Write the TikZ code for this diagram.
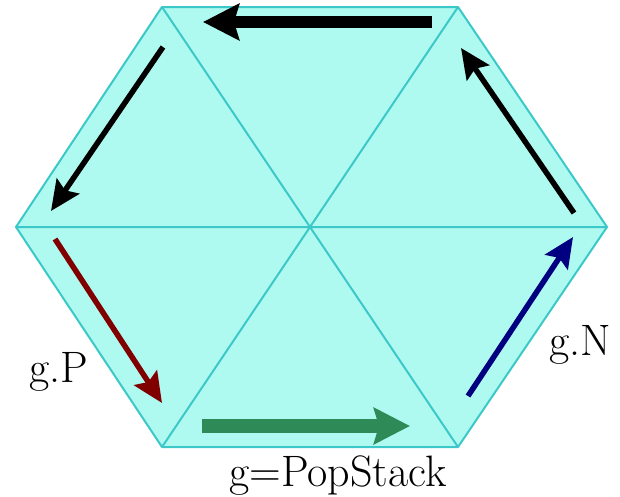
\documentclass[tikz,border=0pt]{standalone}
\usetikzlibrary{arrows.meta}
\definecolor{hexfill}{RGB}{175,250,240}
\definecolor{hexedge}{RGB}{60,200,200}
\definecolor{pcol}{RGB}{128,0,0}
\definecolor{ncol}{RGB}{0,0,128}
\definecolor{scol}{RGB}{46,139,87}
\tikzset{
  edge/.style={draw=hexedge, line width=2pt},
  thinarrow/.style={line width=5.5pt, -{Stealth[length=30pt,width=27pt,inset=5pt]}},
  fatarrow/.style={line width=12pt, -{Stealth[length=36pt,width=36pt,inset=5pt]}},
  lbl/.style={font=\rmfamily\fontsize{44}{48}\selectfont, inner sep=0pt}
}
\begin{document}
\begin{tikzpicture}[x=1pt,y=-1pt]
\useasboundingbox (0,0) rectangle (620,496);
\coordinate (L) at (16,227);
\coordinate (TL) at (162,7);
\coordinate (TR) at (458,7);
\coordinate (R) at (607,227);
\coordinate (BR) at (458,447);
\coordinate (BL) at (162,447);
\coordinate (C) at (311,227);
\fill[hexfill] (L) -- (TL) -- (TR) -- (R) -- (BR) -- (BL) -- cycle;
\draw[edge] (L) -- (R) (TL) -- (BR) (TR) -- (BL);
\draw[edge, line join=round] (L) -- (TL) -- (TR) -- (R) -- (BR) -- (BL) -- cycle;
% arrows
\coordinate (a1s) at (432,22); \coordinate (a1e) at (203,22);
\coordinate (a2s) at (163,47); \coordinate (a2e) at (51,211);
\coordinate (a3s) at (55,239); \coordinate (a3e) at (162,403);
\coordinate (a4s) at (202,426); \coordinate (a4e) at (410,426);
\coordinate (a5s) at (468,396); \coordinate (a5e) at (573,237);
\coordinate (a6s) at (574,213); \coordinate (a6e) at (461,48);
\draw[fatarrow, black] (a1s) -- (a1e);
\draw[thinarrow, black] (a2s) -- (a2e);
\draw[thinarrow, pcol] (a3s) -- (a3e);
\draw[fatarrow, scol, line width=14pt] (a4s) -- (a4e);
\draw[thinarrow, ncol] (a5s) -- (a5e);
\draw[thinarrow, black] (a6s) -- (a6e);
% labels
\node[lbl, anchor=base west] (gp) at (29,382) {g.P};
\node[lbl, anchor=base west] (gn) at (549,355) {g.N};
\node[lbl, anchor=base] (gs) at (338,486) {g=PopStack};
\end{tikzpicture}
\end{document}
